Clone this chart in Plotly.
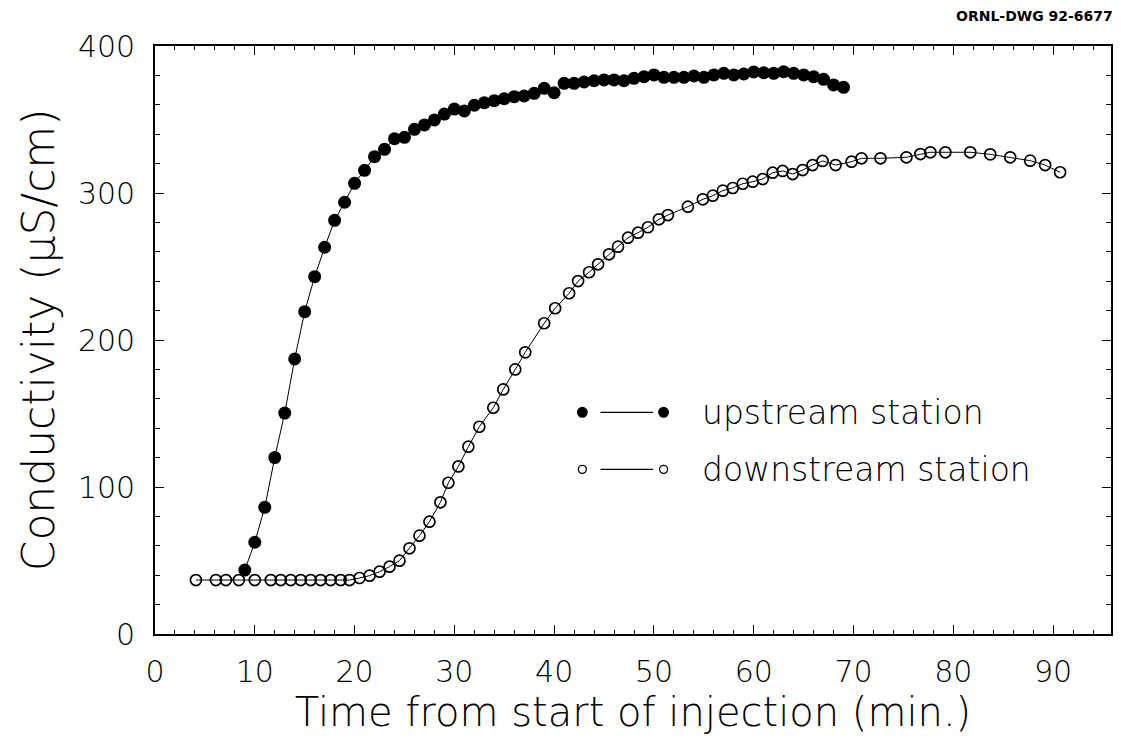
import plotly.graph_objects as go

# ---------------- data ----------------
up_time = [9, 10, 11, 12, 13, 14, 15, 16, 17, 18, 19, 20, 21, 22, 23, 24, 25, 26, 27, 28,
           29, 30, 31, 32, 33, 34, 35, 36, 37, 38, 39, 40, 41, 42, 43, 44, 45, 46, 47, 48,
           49, 50, 51, 52, 53, 54, 55, 56, 57, 58, 59, 60, 61, 62, 63, 64, 65, 66, 67, 68, 69]
up_cond = [43.5, 62.4, 86.2, 120.0, 150.3, 187.1, 219.3, 243.1, 263.1, 281.4,
           293.7, 306.6, 315.4, 324.7, 329.7, 336.9, 337.9, 343.3, 346.3, 349.7,
           353.7, 357.1, 355.8, 359.7, 361.4, 362.8, 364.2, 365.5, 366.0, 367.8,
           371.2, 368.2, 374.6, 374.6, 375.5, 376.4, 376.9, 376.9, 376.4, 378.0,
           379.1, 380.3, 378.7, 378.7, 378.7, 379.6, 378.7, 380.3, 381.4, 380.3,
           381.0, 382.3, 381.8, 381.4, 382.5, 381.4, 380.3, 379.1, 377.3, 373.5, 371.9]

down_time = [4.1, 6.1, 7.1, 8.4, 10.0, 11.6, 12.6, 13.6, 14.6, 15.6, 16.6, 17.6, 18.6, 19.5,
             20.5, 21.5, 22.5, 23.5, 24.5, 25.5, 26.5, 27.5, 28.6, 29.4, 30.4, 31.4, 32.5,
             33.9, 34.9, 36.1, 37.1, 39.0, 40.1, 41.5, 42.4, 43.5, 44.4, 45.5, 46.4, 47.4,
             48.4, 49.4, 50.5, 51.4, 53.4, 54.9, 55.9, 56.9, 57.9, 58.9, 59.9, 60.9, 61.9,
             62.9, 63.9, 64.9, 65.9, 66.9, 68.2, 69.8, 70.8, 72.7, 75.3, 76.7, 77.7, 79.2,
             81.7, 83.7, 85.7, 87.7, 89.2, 90.7]
down_cond = [36.7, 36.7, 36.7, 36.7, 36.7, 36.7, 36.7, 36.7, 36.7, 36.7, 36.7, 36.7, 36.7, 36.7,
             38.1, 39.7, 42.4, 45.8, 49.9, 58.3, 66.9, 76.4, 89.6, 102.9, 114.0, 127.4, 141.0,
             153.9, 166.4, 180.0, 191.6, 211.4, 221.6, 231.8, 240.1, 246.1, 251.5, 258.3, 263.5, 269.6,
             273.0, 276.7, 282.1, 285.0, 290.7, 295.7, 298.2, 301.6, 303.4, 306.3, 307.7, 309.5, 313.8,
             315.0, 312.9, 315.6, 319.0, 321.8, 319.0, 321.3, 323.6, 323.6, 324.3, 326.5, 327.7, 327.7,
             327.7, 326.3, 324.3, 322.0, 319.0, 314.1]

series_names = ["upstream station", "downstream station"]
x_title = "Time from start of injection (min.)"
y_title = "Conductivity (μS/cm)"
drawing_id = "ORNL-DWG 92-6677"

FONT = "DejaVu Sans"
W = 200

fig = go.Figure()

fig.add_trace(go.Scatter(
    x=down_time, y=down_cond, mode="lines+markers", name=series_names[1],
    line=dict(color="black", width=1),
    marker=dict(symbol="circle-open", size=11, color="black", line=dict(width=1.7)),
    showlegend=False,
))
fig.add_trace(go.Scatter(
    x=up_time, y=up_cond, mode="lines+markers", name=series_names[0],
    line=dict(color="black", width=1),
    marker=dict(symbol="circle", size=13, color="black"),
    showlegend=False,
))

axis_common = dict(
    showline=True, linecolor="black", linewidth=1.6, mirror="allticks",
    ticks="inside", ticklen=9, tickwidth=1.3, tickcolor="black",
    showgrid=False, zeroline=False,
    tickfont=dict(family=FONT, size=30, color="black", weight=W),
)

fig.update_xaxes(
    range=[0, 95.8], dtick=10, tick0=0,
    minor=dict(dtick=2, ticks="inside", ticklen=4, tickcolor="black", tickwidth=1, showgrid=False),
    title=dict(text=x_title, font=dict(family=FONT, size=40, color="black", weight=W), standoff=10),
    ticklabelstandoff=10,
    **axis_common,
)
fig.update_yaxes(
    range=[0, 400], dtick=100, tick0=0,
    minor=dict(dtick=20, ticks="inside", ticklen=5, tickcolor="black", tickwidth=1, showgrid=False),
    title=dict(text=y_title, font=dict(family=FONT, size=44, color="black", weight=W), standoff=10),
    ticklabelstandoff=12,
    **axis_common,
)

# ----- hand-drawn style legend (paper coordinates) -----
leg_x_left, leg_x_right = 0.447, 0.532
leg_line = (0.466, 0.521)
leg_text_x = 0.570
leg_rows = [0.377, 0.280]
shapes = []
annotations = []
for i, (name, row_y) in enumerate(zip(series_names, leg_rows)):
    filled = i == 0
    r = 4.8 if filled else 4
    for cx in (leg_x_left, leg_x_right):
        shapes.append(dict(
            type="circle", xref="paper", yref="paper", xsizemode="pixel", ysizemode="pixel",
            xanchor=cx, yanchor=row_y, x0=-r, x1=r, y0=-r, y1=r,
            fillcolor="black" if filled else "rgba(0,0,0,0)",
            line=dict(color="black", width=1.3),
        ))
    shapes.append(dict(type="line", xref="paper", yref="paper",
                       x0=leg_line[0], x1=leg_line[1], y0=row_y, y1=row_y,
                       line=dict(color="black", width=1.2)))
    annotations.append(dict(
        text=name, xref="paper", yref="paper", x=leg_text_x, y=row_y,
        xanchor="left", yanchor="middle", showarrow=False,
        font=dict(family=FONT, size=33, color="black", weight=W),
    ))

annotations.append(dict(
    text=drawing_id, xref="paper", yref="paper", x=1.0, y=1.0, yshift=30, xshift=4,
    xanchor="right", yanchor="middle", showarrow=False,
    font=dict(family="DejaVu Sans", size=14, color="black", weight="bold"),
))

fig.update_layout(
    width=1121, height=751,
    margin=dict(l=155, r=8, t=46, b=117),
    paper_bgcolor="white", plot_bgcolor="white",
    shapes=shapes, annotations=annotations,
    showlegend=False,
)

fig.write_html("out.html")
